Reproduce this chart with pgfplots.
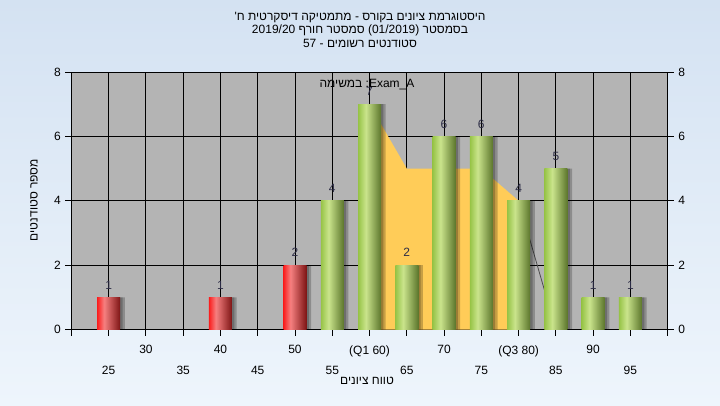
\documentclass[border=0pt]{standalone}
\usepackage{fontspec}
\setmainfont{Liberation Sans}
\newfontfamily\heb[Script=Hebrew]{Liberation Sans}
\TeXXeTstate=1
\usepackage{pgfplots}
\pgfplotsset{compat=1.18}

\definecolor{bgtop}{RGB}{212,226,242}
\definecolor{bgbot}{RGB}{238,245,252}
\definecolor{plotgray}{RGB}{180,180,180}
\definecolor{yellowc}{RGB}{255,204,88}
\definecolor{gL}{RGB}{150,195,70}
\definecolor{gM}{RGB}{202,228,140}
\definecolor{gR}{RGB}{92,118,44}
\definecolor{rL}{RGB}{250,30,30}
\definecolor{rM}{RGB}{246,128,128}
\definecolor{rR}{RGB}{125,20,20}
\definecolor{lbl}{RGB}{45,45,70}

\pgfdeclarehorizontalshading{greenbar}{100bp}{color(0bp)=(gL); color(25bp)=(gL); color(42bp)=(gM); color(75bp)=(gR); color(100bp)=(gR)}
\pgfdeclarehorizontalshading{redbar}{100bp}{color(0bp)=(rL); color(25bp)=(rL); color(40bp)=(rM); color(75bp)=(rR); color(100bp)=(rR)}

\newcommand\tf{\fontsize{9}{10.5}\selectfont}

\pgfplotsset{
  onebar/.style={ybar, bar width=17.25pt, bar shift=0pt, shading=#1, draw=none,
    nodes near coords, nodes near coords style={font=\tf, text=lbl, anchor=south, inner sep=0pt, yshift=6pt}},
}
\newcommand\gbar[2]{\addplot[onebar=greenbar] coordinates {(#1,#2)};}
\newcommand\rbar[2]{\addplot[onebar=redbar] coordinates {(#1,#2)};}

\begin{document}
\begin{tikzpicture}[x=0.75pt,y=0.75pt]
\shade[top color=bgtop, bottom color=bgbot] (0,0) rectangle (720,405);
\coordinate (ll) at (71.4,75.5);

% titles
\node[font=\tf\heb] at (360,388) {\beginR היסטוגרמת ציונים בקורס - מתמטיקה דיסקרטית ח'\endR};
\node[font=\tf\heb] at (360,375) {\beginR בסמסטר \beginL(01/2019)\endL{}  סמסטר חורף \beginL2019/20\endL\endR};
\node[font=\tf\heb] at (360,362) {\beginR סטודנטים רשומים - \beginL57\endL\endR};

\begin{axis}[
    scale only axis, width=447.2pt, height=193.1pt,
    at={(ll)}, anchor=south west,
    xmin=20, xmax=100, ymin=0, ymax=8,
    axis background/.style={fill=plotgray},
    axis line style={line width=0.75pt},
    grid=major, grid style={black, line width=0.75pt},
    tick style={black, line width=0.75pt},
    tick align=outside, major tick length=4.5pt,
    ytick={0,2,...,8}, ytick pos=left,
    xtick={20,30,...,100}, xtick pos=bottom,
    xticklabels={,30,40,50,(Q1 60),70,(Q3 80),90,},
    extra x ticks={25,35,...,95},
    extra x tick labels={25,35,45,55,65,75,85,95},
    extra x tick style={grid=major, tick label style={yshift=-15.75pt}},
    tick label style={font=\tf},
    x tick label style={yshift=-4pt},
    /pgf/number format/assume math mode=true,
    clip=false,
]
% yellow interquartile area
\addplot[fill=yellowc, draw=none] coordinates {(60,0) (60,7) (65,5) (70,5) (75,5) (80,4) (80,0)} -- cycle;
\addplot[black!70, line width=0.6pt] coordinates {(80,4) (85,0)};

% shadows
\addplot[ybar, bar width=17.25pt, bar shift=3.5pt, fill=black, opacity=0.22, draw=none]
  coordinates {(25,1) (40,1) (50,2) (55,4) (60,7) (65,2) (70,6) (75,6) (80,4) (85,5) (90,1) (95,1)};
\addplot[ybar, bar width=17.25pt, bar shift=1.8pt, fill=black, opacity=0.22, draw=none]
  coordinates {(25,1) (40,1) (50,2) (55,4) (60,7) (65,2) (70,6) (75,6) (80,4) (85,5) (90,1) (95,1)};

% failing grades
\rbar{25}{1}
\rbar{40}{1}
\rbar{50}{2}
% passing grades
\gbar{55}{4}
\gbar{60}{7}
\gbar{65}{2}
\gbar{70}{6}
\gbar{75}{6}
\gbar{80}{4}
\gbar{85}{5}
\gbar{90}{1}
\gbar{95}{1}
\end{axis}

\begin{axis}[
    scale only axis, width=447.2pt, height=193.1pt,
    at={(ll)}, anchor=south west,
    xmin=20, xmax=100, ymin=0, ymax=8,
    hide x axis, axis y line*=right,
    y axis line style={-, line width=0.75pt},
    tick style={black, line width=0.75pt},
    tick align=outside, major tick length=4.5pt,
    ytick={0,2,...,8},
    tick label style={font=\tf},
    /pgf/number format/assume math mode=true,
]
\addplot[draw=none] coordinates {(20,0)};
\end{axis}

\node[font=\tf\heb] at (367,320) {{\beginR במשימה\endR} :Exam\_A};
\node[font=\tf\heb, rotate=90] at (34,205) {\beginR מספר סטודנטים\endR};
\node[font=\tf\heb] at (367,24) {\beginR טווח ציונים\endR};

\pgfresetboundingbox
\useasboundingbox (0,0) rectangle (720,405);
\end{tikzpicture}
\end{document}
